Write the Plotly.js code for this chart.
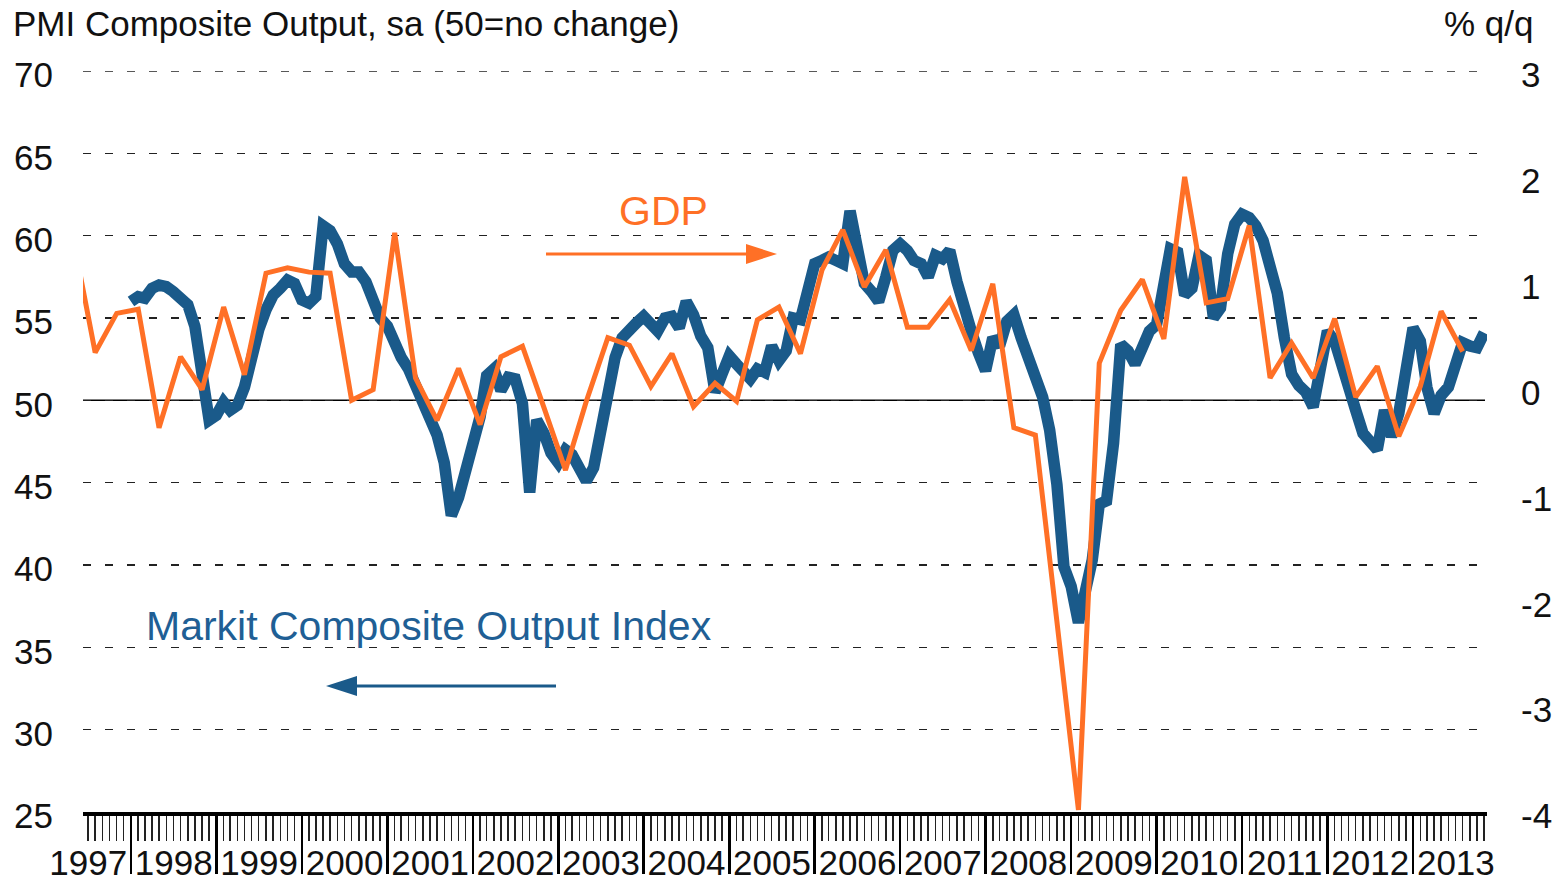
<!DOCTYPE html>
<html>
<head>
<meta charset="utf-8">
<script src="https://cdn.plot.ly/plotly-3.0.1.min.js"></script>
<style>
  html, body { margin: 0; padding: 0; background: #ffffff; }
  #chart { width: 1563px; height: 883px; }
</style>
</head>
<body>
<div id="chart"></div>
<script>
// ---- Data ----
// Markit Composite Output Index (left axis), monthly from Jan 1998
const PMI_START = [1998, 1];
const PMI_VALUES = [
  56.0, 56.3, 56.2, 56.8, 57.0, 56.9, 56.6, 56.2, 55.8, 54.5, 51.9, 48.8,
  49.1, 49.9, 49.4, 49.7, 50.8, 53.0, 54.3, 55.5, 56.4, 56.8, 57.3, 57.1,
  56.1, 55.9, 56.3, 60.6, 60.3, 59.5, 58.3, 57.8, 57.8, 57.2, 55.8, 55.0,
  54.5, 53.4, 52.6, 51.9, 51.0, 50.0, 48.9, 47.9, 46.2, 43.0, 44.1, 45.9,
  47.3, 49.0, 51.5, 51.9, 50.6, 51.4, 51.3, 49.8, 44.4, 48.8, 48.0, 46.8,
  46.2, 47.0, 46.7, 45.9, 45.1, 45.9, 48.0, 50.8, 52.6, 53.8, 54.4, 54.7,
  55.1, 54.7, 54.2, 55.0, 55.1, 54.4, 56.0, 55.2, 53.9, 53.2, 50.5, 51.6,
  52.7, 52.2, 51.7, 51.3, 51.9, 51.7, 53.3, 52.4, 53.0, 55.0, 54.9, 56.5,
  58.3, 58.5, 58.7, 58.5, 58.3, 61.5, 59.3, 57.1, 56.6, 56.0, 57.5, 59.1,
  59.5, 59.1, 58.5, 58.3, 57.5, 58.8, 58.6, 59.1, 57.2, 55.5, 54.2, 52.9,
  51.8, 53.8, 53.3, 54.8, 55.2, 53.8, 52.7, 51.8, 50.2, 48.2, 44.9, 39.9,
  38.7, 36.5, 38.3, 40.3, 43.7, 43.9, 47.4, 53.4, 53.0, 52.2, 53.2, 54.2,
  54.6, 57.0, 59.2, 59.0, 56.4, 56.8, 58.8, 58.5, 55.0, 55.6, 58.9, 60.7,
  61.3, 61.1, 60.6, 59.7, 58.2, 56.5, 53.8, 51.6, 50.9, 50.5, 49.6, 52.0,
  54.2, 53.6, 52.1, 50.8, 49.4, 48.0, 47.4, 47.0, 49.4, 47.8, 49.2, 51.6,
  54.4, 53.6, 50.8, 49.2, 50.3, 50.8, 52.0, 53.5, 53.3, 53.2, 54.1
];
// GDP % q/q (right axis), quarterly, plotted at the middle month of each quarter, from Q2 1997
const GDP_START = [1997, 5];
const GDP_VALUES = [
  1.40, 0.34, 0.71,
  0.75, -0.37, 0.30, -0.01,
  0.77, 0.13, 1.09, 1.14,
  1.10, 1.09, -0.11, -0.01,
  1.47, 0.10, -0.30, 0.19,
  -0.34, 0.30, 0.40, -0.18,
  -0.77, -0.12, 0.48, 0.41,
  0.02, 0.33, -0.17, 0.05,
  -0.12, 0.65, 0.77, 0.33,
  1.12, 1.50, 0.96, 1.31,
  0.58, 0.58, 0.84, 0.36,
  0.99, -0.37, -0.44, -2.20,
  -3.98, 0.24, 0.74, 1.03,
  0.47, 2.00, 0.81, 0.85,
  1.54, 0.10, 0.43, 0.10,
  0.66, -0.08, 0.21, -0.45,
  0.02, 0.73, 0.35
];
// Right-axis tick values and labels (hyphen minus as in the reference)
const GDP_TICK_VALUES = [-4, -3, -2, -1, 0, 1, 2, 3];
const GDP_TICK_LABELS = ['-4', '-3', '-2', '-1', '0', '1', '2', '3'];
const REFERENCE_LEVEL = 50;
const TOP_GRID_LEVEL = 70;
const LEFT_TITLE = 'PMI Composite Output, sa (50=no change)';
const RIGHT_TITLE = '% q/q';
const GDP_LABEL = 'GDP';
const PMI_LABEL = 'Markit Composite Output Index';

// ---- Build dates ----
function monthDates(start, n, stepMonths) {
  const out = [];
  for (let i = 0; i < n; i++) {
    const idx = (start[0] * 12 + (start[1] - 1)) + i * stepMonths;
    const y = Math.floor(idx / 12), m = idx % 12 + 1;
    out.push(y + '-' + String(m).padStart(2, '0') + '-01');
  }
  return out;
}
const pmiDates = monthDates(PMI_START, PMI_VALUES.length, 1);
const gdpDates = monthDates(GDP_START, GDP_VALUES.length, 3);

// ---- Layout geometry (pixels) ----
const L = 83, R = 1487, T = 71, B = 812;
const W = R - L, H = B - T;
const px = x => (x - L) / W;
const py = y => (B - y) / H;

const BLUE = '#1a5a8a';
const ORANGE = '#ff7026';
const FONT = 'Liberation Sans, Arial, Helvetica, sans-serif';
const INK = '#111111';
const GRID_DASH = '8px,14px';

const traces = [
  {
    x: pmiDates, y: PMI_VALUES, type: 'scatter', mode: 'lines',
    line: { color: BLUE, width: 11.5 }, yaxis: 'y', hoverinfo: 'skip'
  },
  {
    x: gdpDates, y: GDP_VALUES, type: 'scatter', mode: 'lines',
    line: { color: ORANGE, width: 5 }, yaxis: 'y2', hoverinfo: 'skip'
  }
];

function tri(tipX, baseX, yc, half) {
  return 'M ' + px(baseX) + ' ' + py(yc - half) +
         ' L ' + px(tipX) + ' ' + py(yc) +
         ' L ' + px(baseX) + ' ' + py(yc + half) + ' Z';
}

const layout = {
  width: 1563, height: 883,
  margin: { l: L, r: 1563 - R, t: T, b: 883 - B, pad: 0 },
  paper_bgcolor: '#ffffff', plot_bgcolor: '#ffffff',
  showlegend: false,
  font: { family: FONT, size: 35, color: INK },
  xaxis: {
    type: 'date',
    range: ['1997-06-10', '2013-11-13'],
    tick0: '1997-01-01', dtick: 'M12',
    tickformat: '%Y', ticklabelmode: 'period',
    ticks: 'outside', ticklen: 58, tickwidth: 2.5, tickcolor: '#000',
    ticklabelstandoff: -41,
    minor: { dtick: 'M1', tick0: '1997-01-01', ticks: 'outside', ticklen: 25, tickwidth: 1.5, tickcolor: '#222', showgrid: false },
    showline: true, linewidth: 4, linecolor: '#000',
    showgrid: false, zeroline: false,
    tickfont: { family: FONT, size: 35, color: INK }
  },
  yaxis: {
    range: [25, 70], tick0: 25, dtick: 5,
    ticks: '', ticklabelstandoff: 29, ticklabelshift: 4,
    showgrid: true, gridcolor: '#222', gridwidth: 1.6, griddash: GRID_DASH,
    showline: false, zeroline: false,
    tickfont: { family: FONT, size: 35, color: INK }
  },
  yaxis2: {
    overlaying: 'y', side: 'right',
    range: [-4, 3], tickmode: 'array', tickvals: GDP_TICK_VALUES, ticktext: GDP_TICK_LABELS,
    ticks: '', ticklabelstandoff: 33, ticklabelshift: 4,
    showgrid: false, showline: false, zeroline: false,
    tickfont: { family: FONT, size: 35, color: INK }
  },
  shapes: [
    { type: 'line', xref: 'paper', yref: 'y', x0: 0, x1: px(1485), y0: REFERENCE_LEVEL, y1: REFERENCE_LEVEL,
      line: { color: '#000', width: 1.5 }, layer: 'below' },
    { type: 'line', xref: 'paper', yref: 'y', x0: 0, x1: 1, y0: TOP_GRID_LEVEL, y1: TOP_GRID_LEVEL,
      line: { color: '#222', width: 1.6, dash: GRID_DASH }, layer: 'below' },
    // GDP arrow (pointing right)
    { type: 'line', xref: 'paper', yref: 'paper', x0: px(546), x1: px(750), y0: py(254), y1: py(254),
      line: { color: ORANGE, width: 3 } },
    { type: 'path', xref: 'paper', yref: 'paper', path: tri(777, 746, 254, 10),
      fillcolor: ORANGE, line: { color: ORANGE, width: 0 } },
    // PMI arrow (pointing left)
    { type: 'line', xref: 'paper', yref: 'paper', x0: px(556), x1: px(352), y0: py(686), y1: py(686),
      line: { color: BLUE, width: 3 } },
    { type: 'path', xref: 'paper', yref: 'paper', path: tri(326, 357, 686, 10),
      fillcolor: BLUE, line: { color: BLUE, width: 0 } }
  ],
  annotations: [
    { text: LEFT_TITLE, xref: 'paper', yref: 'paper', x: px(11), y: py(24),
      xanchor: 'left', yanchor: 'middle', showarrow: false,
      font: { family: FONT, size: 35, color: INK } },
    { text: RIGHT_TITLE, xref: 'paper', yref: 'paper', x: px(1536), y: py(24),
      xanchor: 'right', yanchor: 'middle', showarrow: false,
      font: { family: FONT, size: 35, color: INK } },
    { text: GDP_LABEL, xref: 'paper', yref: 'paper', x: px(663), y: py(211),
      xanchor: 'center', yanchor: 'middle', showarrow: false,
      font: { family: FONT, size: 41, color: ORANGE } },
    { text: PMI_LABEL, xref: 'paper', yref: 'paper', x: px(144), y: py(626),
      xanchor: 'left', yanchor: 'middle', showarrow: false,
      font: { family: FONT, size: 41, color: '#1f5f95' } }
  ]
};

Plotly.newPlot('chart', traces, layout, { displayModeBar: false, staticPlot: true });
</script>
</body>
</html>
